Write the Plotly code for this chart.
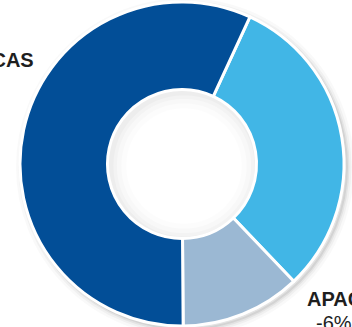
import plotly.graph_objects as go

# Revenue share by region (percent), clockwise from the top-right slice
regions = ["EMEA", "APAC", "AMERICAS"]
shares = [31, 12, 57]
colors = ["#41B6E6", "#9BB8D3", "#024E97"]

# Region labels with year-over-year change
label_names = ["AMERICAS", "APAC"]
label_changes = [None, "-6%"]

W, H = 352, 327
cx, cy, R = 182, 164, 162   # pie centre and outer radius (px, from top-left)
hole = 0.46

def px_x(x):
    return x / W

def px_y(y):
    return (H - y) / H

fig = go.Figure()

fig.add_trace(go.Pie(
    labels=regions,
    values=shares,
    hole=hole,
    sort=False,
    direction="clockwise",
    rotation=24.8,
    marker=dict(colors=colors, line=dict(color="white", width=3)),
    textinfo="none",
    hoverinfo="label+percent",
    domain=dict(x=[px_x(cx - R), px_x(cx + R)], y=[px_y(cy + R), px_y(cy - R)]),
))

shapes = []
# soft drop shadow under the ring, offset down-right
for w, a in [(14, 0.025), (9, 0.035), (5, 0.05), (2, 0.07)]:
    ox, oy = cx + 3, cy + 3
    shapes.append(dict(type="circle", xref="paper", yref="paper", layer="below",
                       x0=px_x(ox - R), x1=px_x(ox + R), y0=px_y(oy + R), y1=px_y(oy - R),
                       line=dict(color=f"rgba(0,0,0,{a})", width=w), fillcolor="rgba(0,0,0,0)"))
# inner shadow inside the hole, heavier toward the top-left
rh = R * hole
for w, a in [(34, 0.012), (24, 0.014), (15, 0.018), (8, 0.022)]:
    ox, oy = cx + 2, cy + 2
    shapes.append(dict(type="circle", xref="paper", yref="paper", layer="below",
                       x0=px_x(ox - rh), x1=px_x(ox + rh), y0=px_y(oy + rh), y1=px_y(oy - rh),
                       line=dict(color=f"rgba(0,0,0,{a})", width=w), fillcolor="rgba(0,0,0,0)"))

font_bold = dict(family="Liberation Sans, Arial, sans-serif", size=20, color="#1e1e1e")
annotations = [
    dict(text=f"<b>{label_names[0]}</b>", x=px_x(36), y=px_y(60.5), xref="paper", yref="paper",
         xanchor="right", yanchor="middle", showarrow=False, font=font_bold),
    dict(text=f"<b>{label_names[1]}</b>", x=px_x(334), y=px_y(298.5), xref="paper", yref="paper",
         xanchor="center", yanchor="middle", showarrow=False, font=font_bold),
    dict(text=label_changes[1], x=px_x(334), y=px_y(323), xref="paper", yref="paper",
         xanchor="center", yanchor="middle", showarrow=False, font=font_bold),
]

fig.update_layout(
    width=W, height=H,
    margin=dict(l=0, r=0, t=0, b=0),
    paper_bgcolor="white",
    plot_bgcolor="white",
    showlegend=False,
    shapes=shapes,
    annotations=annotations,
)

fig.write_html("out.html")
